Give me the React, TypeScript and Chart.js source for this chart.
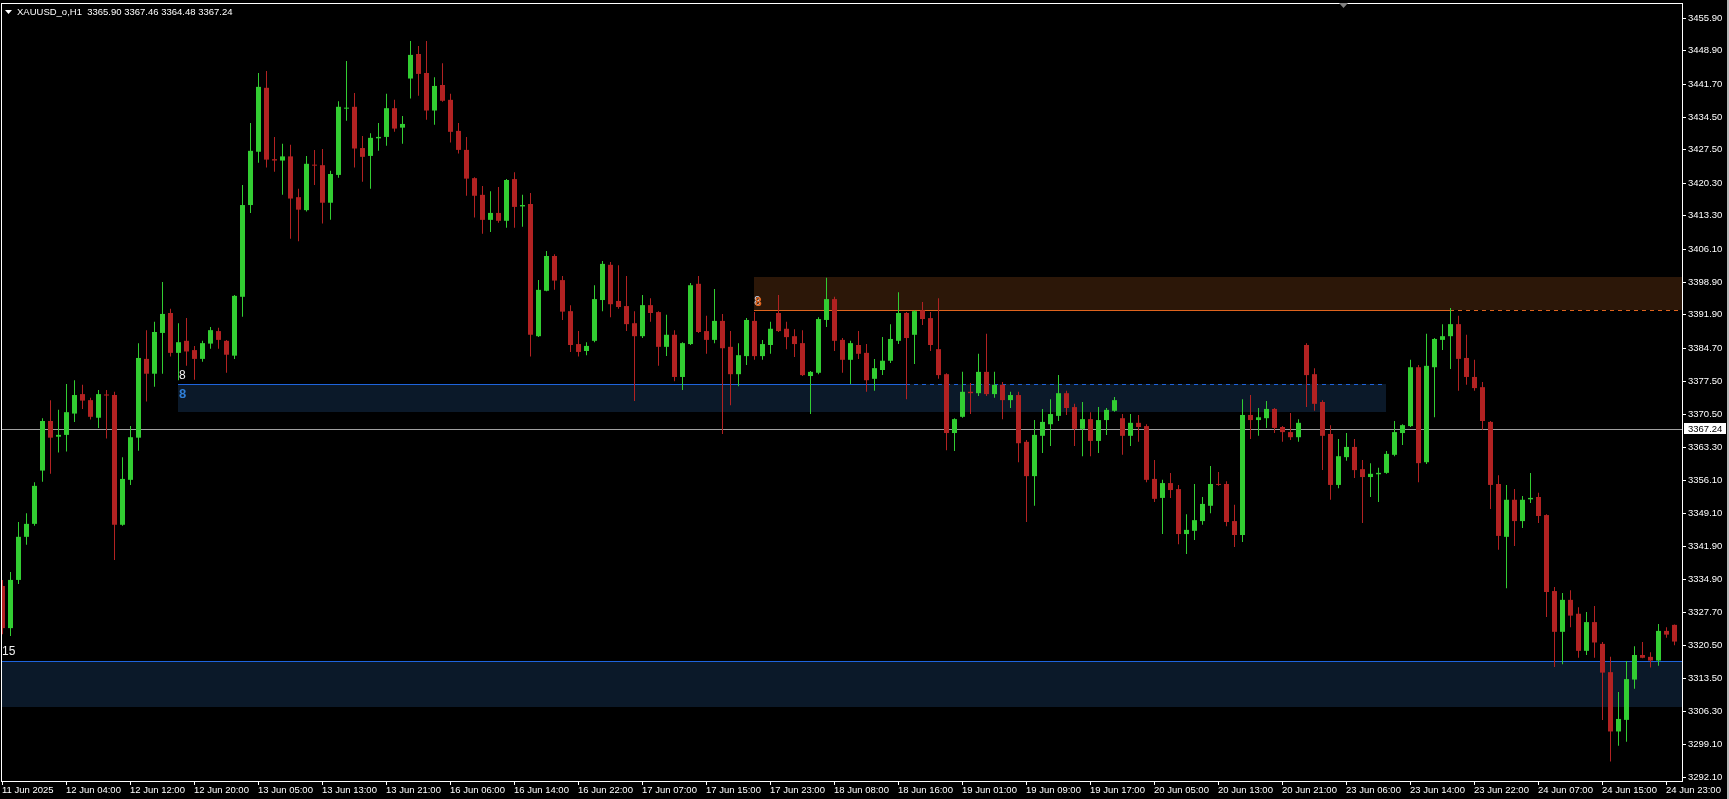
import React, { useEffect, useRef } from 'react';
import { Chart, registerables } from 'chart.js';

Chart.register(...registerables);

const symbolTitle = 'XAUUSD_o,H1';
const headerQuote = ['3365.90', '3367.46', '3364.48', '3367.24'];

const opens = [
  3333.4, 3324.3, 3334.7, 3344.0, 3346.8, 3358.3, 3369.0, 3365.6, 3366.0, 3370.6,
  3374.8, 3373.5, 3369.7, 3374.7, 3374.6, 3346.6, 3356.3, 3365.4, 3382.4, 3379.2,
  3388.0, 3392.3, 3383.7, 3386.3, 3384.3, 3382.4, 3385.7, 3388.4, 3386.3, 3383.1,
  3395.8, 3415.6, 3427.1, 3440.9, 3425.5, 3425.2, 3426.1, 3417.3, 3414.5, 3424.3,
  3424.2, 3416.1, 3422.1, 3436.4, 3436.8, 3427.9, 3426.2, 3430.0, 3430.3, 3436.5,
  3432.3, 3442.9, 3448.2, 3444.1, 3436.0, 3441.5, 3438.3, 3431.6, 3427.5, 3421.4,
  3417.8, 3412.4, 3413.9, 3412.2, 3421.2, 3415.3, 3415.8, 3387.3, 3397.1, 3404.6,
  3399.4, 3392.7, 3385.6, 3384.1, 3386.3, 3395.1, 3402.7, 3394.9, 3393.8, 3390.1,
  3387.3, 3394.0, 3392.5, 3385.0, 3387.6, 3378.5, 3385.6, 3398.6, 3388.4, 3386.5,
  3390.6, 3385.0, 3379.1, 3383.0, 3390.6, 3383.0, 3385.4, 3392.3, 3388.9, 3387.3,
  3385.8, 3378.7, 3379.4, 3390.8, 3395.3, 3386.5, 3382.2, 3385.4, 3383.7, 3378.1,
  3380.0, 3382.0, 3386.3, 3392.3, 3387.6, 3392.9, 3391.2, 3384.5, 3379.1, 3366.4,
  3369.9, 3375.3, 3375.0, 3379.6, 3374.8, 3376.8, 3373.5, 3374.6, 3364.5, 3357.1,
  3365.8, 3368.3, 3370.1, 3375.0, 3372.0, 3367.3, 3369.4, 3364.7, 3369.2, 3371.2,
  3369.6, 3365.8, 3368.6, 3367.9, 3356.5, 3352.4, 3355.6, 3354.3, 3344.6, 3345.3,
  3347.4, 3350.7, 3355.4, 3355.4, 3347.4, 3344.4, 3370.3, 3369.2, 3369.6, 3371.6,
  3367.7, 3366.6, 3365.5, 3385.4, 3379.1, 3373.1, 3366.2, 3355.2, 3361.2, 3363.4,
  3358.6, 3356.9, 3357.5, 3357.8, 3361.7, 3366.4, 3367.9, 3380.6, 3360.1, 3380.6,
  3386.5, 3387.3, 3389.9, 3382.6, 3378.5, 3376.3, 3368.8, 3355.4, 3344.0, 3352.0,
  3347.4, 3352.1, 3352.6, 3348.7, 3332.3, 3323.5, 3330.4, 3327.4, 3319.4, 3325.6,
  3320.9, 3314.8, 3302.0, 3304.5, 3313.2, 3318.5, 3318.1, 3317.3, 3323.7, 3325.0,
];

const highs = [
  3334.7, 3336.4, 3347.2, 3349.1, 3355.8, 3369.6, 3373.5, 3371.4, 3377.0, 3377.8,
  3376.8, 3374.0, 3375.7, 3375.7, 3375.3, 3361.2, 3367.9, 3385.8, 3388.6, 3390.4,
  3399.0, 3393.2, 3390.1, 3391.2, 3385.2, 3386.3, 3389.3, 3389.1, 3386.5, 3396.2,
  3419.9, 3433.3, 3444.1, 3444.5, 3430.3, 3428.8, 3428.6, 3419.1, 3426.2, 3427.5,
  3427.7, 3423.0, 3438.0, 3446.7, 3439.8, 3430.5, 3431.1, 3433.3, 3439.6, 3438.3,
  3434.8, 3451.0, 3449.9, 3451.0, 3443.2, 3446.2, 3439.6, 3433.3, 3430.3, 3421.6,
  3419.7, 3418.6, 3419.5, 3421.2, 3422.7, 3417.8, 3418.2, 3399.4, 3405.7, 3405.0,
  3400.3, 3394.0, 3388.4, 3386.0, 3398.3, 3403.5, 3403.3, 3402.6, 3400.3, 3392.7,
  3396.2, 3395.5, 3392.7, 3391.9, 3388.6, 3386.0, 3398.8, 3400.3, 3391.7, 3397.5,
  3392.1, 3388.4, 3385.8, 3391.2, 3392.5, 3386.5, 3390.4, 3396.2, 3390.4, 3388.8,
  3388.6, 3379.8, 3391.4, 3399.9, 3395.8, 3386.9, 3386.3, 3388.4, 3385.6, 3382.4,
  3387.1, 3389.9, 3396.8, 3392.5, 3392.9, 3394.7, 3392.5, 3395.5, 3379.3, 3369.6,
  3379.6, 3377.2, 3383.5, 3387.8, 3379.6, 3377.4, 3375.3, 3375.3, 3364.9, 3369.2,
  3371.6, 3373.7, 3378.9, 3375.5, 3372.7, 3373.1, 3370.9, 3372.0, 3371.8, 3374.2,
  3370.5, 3370.5, 3370.3, 3368.3, 3360.6, 3356.3, 3357.8, 3355.2, 3348.9, 3355.4,
  3352.6, 3359.3, 3358.0, 3356.0, 3350.9, 3373.7, 3374.6, 3371.8, 3373.3, 3371.8,
  3367.9, 3370.7, 3369.4, 3385.8, 3380.4, 3373.5, 3368.1, 3365.1, 3366.4, 3365.1,
  3360.6, 3359.9, 3358.9, 3362.5, 3369.0, 3368.3, 3382.2, 3381.1, 3387.8, 3386.9,
  3389.9, 3393.4, 3391.7, 3387.6, 3382.2, 3377.4, 3369.0, 3357.3, 3355.2, 3354.3,
  3352.8, 3357.8, 3353.5, 3348.9, 3333.2, 3331.9, 3332.5, 3328.8, 3327.8, 3329.1,
  3321.3, 3318.1, 3310.5, 3317.2, 3320.4, 3321.3, 3319.1, 3325.2, 3324.5, 3325.1,
];

const lows = [
  3323.0, 3322.6, 3333.8, 3342.3, 3346.4, 3355.9, 3357.6, 3362.2, 3362.4, 3368.8,
  3371.6, 3369.3, 3367.5, 3365.2, 3339.0, 3346.4, 3355.2, 3362.6, 3373.2, 3376.4,
  3379.2, 3382.9, 3377.8, 3380.9, 3377.9, 3381.8, 3384.6, 3384.6, 3379.4, 3382.4,
  3391.5, 3413.9, 3424.7, 3423.7, 3422.8, 3417.8, 3408.3, 3407.8, 3414.2, 3419.9,
  3411.6, 3412.4, 3421.5, 3433.8, 3423.7, 3420.6, 3419.1, 3427.3, 3428.4, 3431.4,
  3428.8, 3438.6, 3439.2, 3434.0, 3432.9, 3437.9, 3429.1, 3426.7, 3417.6, 3412.9,
  3409.4, 3409.8, 3411.8, 3410.7, 3410.7, 3410.9, 3382.9, 3387.1, 3397.0, 3397.3,
  3390.8, 3383.9, 3382.9, 3383.2, 3386.0, 3392.7, 3391.4, 3393.2, 3388.4, 3373.3,
  3386.9, 3390.4, 3380.9, 3383.0, 3377.6, 3375.7, 3385.4, 3388.0, 3383.5, 3385.8,
  3366.2, 3372.4, 3376.5, 3381.1, 3382.2, 3382.2, 3383.5, 3388.2, 3384.5, 3382.8,
  3378.7, 3370.5, 3379.1, 3389.3, 3384.1, 3379.4, 3377.0, 3382.4, 3375.3, 3375.5,
  3378.9, 3381.5, 3385.6, 3373.7, 3381.3, 3389.7, 3384.1, 3378.1, 3362.7, 3362.5,
  3369.7, 3370.5, 3374.4, 3374.4, 3374.0, 3369.4, 3371.8, 3360.1, 3347.2, 3350.7,
  3362.1, 3363.6, 3369.0, 3370.3, 3363.6, 3361.4, 3361.4, 3362.1, 3366.0, 3371.0,
  3361.7, 3363.6, 3364.5, 3355.8, 3351.5, 3344.6, 3352.4, 3342.4, 3340.3, 3343.3,
  3346.6, 3349.1, 3355.0, 3346.3, 3341.8, 3342.9, 3365.1, 3365.8, 3367.5, 3366.4,
  3364.5, 3364.9, 3364.5, 3372.0, 3371.2, 3358.4, 3352.0, 3354.5, 3360.4, 3356.7,
  3347.0, 3352.6, 3351.5, 3357.6, 3361.4, 3363.8, 3367.7, 3355.8, 3359.7, 3369.8,
  3384.3, 3380.2, 3375.5, 3376.8, 3375.5, 3367.1, 3350.0, 3341.2, 3332.9, 3342.0,
  3345.9, 3351.3, 3347.0, 3326.7, 3315.9, 3316.5, 3324.5, 3317.9, 3318.5, 3317.9,
  3304.5, 3295.5, 3298.9, 3299.8, 3311.2, 3317.8, 3315.8, 3316.2, 3322.2, 3320.6,
];

const closes = [
  3324.3, 3334.7, 3344.0, 3346.8, 3355.0, 3369.0, 3365.4, 3366.0, 3370.9, 3374.6,
  3373.4, 3369.9, 3374.8, 3374.5, 3346.6, 3356.5, 3365.5, 3382.6, 3379.2, 3388.2,
  3392.1, 3383.7, 3386.0, 3384.0, 3382.4, 3385.8, 3388.6, 3386.5, 3383.3, 3396.0,
  3415.6, 3427.3, 3441.1, 3425.4, 3425.2, 3426.1, 3417.0, 3414.6, 3424.5, 3424.1,
  3416.1, 3422.3, 3436.8, 3436.6, 3427.8, 3426.0, 3430.1, 3430.3, 3436.5, 3432.1,
  3433.1, 3448.0, 3443.9, 3436.0, 3441.3, 3438.1, 3431.4, 3427.5, 3421.3, 3417.6,
  3412.4, 3413.9, 3412.2, 3421.0, 3415.2, 3415.6, 3387.6, 3397.3, 3404.6, 3399.3,
  3392.6, 3385.4, 3383.9, 3385.2, 3395.3, 3402.9, 3394.2, 3393.6, 3389.9, 3387.3,
  3394.0, 3392.3, 3385.0, 3387.6, 3378.5, 3385.8, 3398.3, 3388.2, 3386.5, 3390.6,
  3384.7, 3379.1, 3383.2, 3390.8, 3383.0, 3385.6, 3388.9, 3388.4, 3387.1, 3385.6,
  3378.9, 3379.6, 3391.0, 3395.3, 3386.3, 3382.2, 3385.8, 3383.5, 3377.8, 3380.4,
  3382.0, 3386.7, 3392.3, 3386.9, 3392.7, 3391.0, 3385.4, 3378.9, 3366.4, 3369.4,
  3375.3, 3375.0, 3379.6, 3374.8, 3376.8, 3373.5, 3374.6, 3364.2, 3357.1, 3366.0,
  3368.8, 3370.5, 3375.0, 3371.8, 3367.3, 3369.4, 3364.7, 3369.2, 3371.4, 3373.5,
  3365.8, 3368.6, 3367.7, 3356.3, 3352.2, 3355.6, 3354.1, 3344.6, 3345.5, 3347.6,
  3351.1, 3355.4, 3355.2, 3347.2, 3344.4, 3370.3, 3369.2, 3369.8, 3371.6, 3367.5,
  3366.6, 3365.5, 3368.6, 3378.9, 3372.7, 3365.8, 3355.2, 3361.4, 3363.4, 3358.4,
  3356.9, 3357.6, 3357.8, 3361.9, 3366.6, 3368.1, 3380.6, 3359.9, 3380.9, 3386.7,
  3387.3, 3389.9, 3382.4, 3378.5, 3376.1, 3369.0, 3355.2, 3344.2, 3352.0, 3347.4,
  3352.0, 3352.4, 3348.5, 3332.1, 3323.5, 3330.4, 3327.0, 3319.4, 3325.6, 3321.2,
  3314.7, 3302.0, 3304.7, 3313.3, 3318.5, 3317.9, 3317.3, 3323.7, 3322.9, 3321.4,
];

const timeTickLabels = [
  '11 Jun 2025', '12 Jun 04:00', '12 Jun 12:00', '12 Jun 20:00', '13 Jun 05:00',
  '13 Jun 13:00', '13 Jun 21:00', '16 Jun 06:00', '16 Jun 14:00', '16 Jun 22:00',
  '17 Jun 07:00', '17 Jun 15:00', '17 Jun 23:00', '18 Jun 08:00', '18 Jun 16:00',
  '19 Jun 01:00', '19 Jun 09:00', '19 Jun 17:00', '20 Jun 05:00', '20 Jun 13:00',
  '20 Jun 21:00', '23 Jun 06:00', '23 Jun 14:00', '23 Jun 22:00', '24 Jun 07:00',
  '24 Jun 15:00', '24 Jun 23:00',
];
const barsPerTimeTick = 8;

const priceTickLabels = [
  '3455.90', '3448.90', '3441.70', '3434.50', '3427.50', '3420.30', '3413.30', '3406.10',
  '3398.90', '3391.90', '3384.70', '3377.50', '3370.50', '3363.30', '3356.10', '3349.10',
  '3341.90', '3334.90', '3327.70', '3320.50', '3313.50', '3306.30', '3299.10', '3292.10',
];

const currentPrice = 3367.24;
const currentPriceText = '3367.24';

// zones: [top price, bottom price]
const resistanceZone = [3399.9, 3392.9];
const resistanceStartBar = 94;
const resistanceSolidEndBar = 181;
const middleZone = [3376.9, 3370.8];
const middleStartBar = 22;
const middleSolidEndBar = 113;
const middleEndBar = 173;
const lowerZone = [3317.1, 3307.2];
const lowerZoneLabel = '15';
const middleZoneLabels = ['8', '8'];
const resistanceZoneLabel = '8';

const priceMin = 3291.31;
const priceMax = 3459.2;
const barMin = -0.0625;
const barMax = 209.9375;

const BULL = '#32CD32';
const BEAR = '#B22222';
const FONT = '"Liberation Sans", Arial, sans-serif';

const overlayPlugin = {
  id: 'mtOverlay',
  beforeDraw(chart: any) {
    const { ctx } = chart;
    ctx.save();
    ctx.fillStyle = '#000000';
    ctx.fillRect(0, 0, chart.width, chart.height);
    ctx.restore();
  },
  beforeDatasetsDraw(chart: any) {
    const { ctx, chartArea: a } = chart;
    const xs = chart.scales.x;
    const ys = chart.scales.y;
    const px = (v: number) => xs.getPixelForValue(v);
    const py = (v: number) => Math.floor(ys.getPixelForValue(v));
    ctx.save();
    ctx.beginPath();
    ctx.rect(a.left, a.top, a.right - a.left, a.bottom - a.top);
    ctx.clip();

    // lower zone
    ctx.fillStyle = '#0B1929';
    ctx.fillRect(a.left, py(lowerZone[0]), a.right - a.left, py(lowerZone[1]) - py(lowerZone[0]));
    // middle zone
    const mx0 = Math.floor(px(middleStartBar));
    const mx1 = Math.floor(px(middleEndBar));
    ctx.fillRect(mx0, py(middleZone[0]), mx1 - mx0, py(middleZone[1]) - py(middleZone[0]));
    // resistance zone
    const rx0 = Math.floor(px(resistanceStartBar));
    ctx.fillStyle = '#2C1708';
    ctx.fillRect(rx0, py(resistanceZone[0]), a.right - rx0, py(resistanceZone[1]) - py(resistanceZone[0]));

    ctx.lineWidth = 1;
    // lower zone line
    ctx.strokeStyle = '#1E64DC';
    let y = py(lowerZone[0]) + 0.5;
    ctx.beginPath();
    ctx.moveTo(a.left, y);
    ctx.lineTo(a.right, y);
    ctx.stroke();
    // middle line solid then dashed
    y = py(middleZone[0]) + 0.5;
    const ms = Math.floor(px(middleSolidEndBar));
    ctx.beginPath();
    ctx.moveTo(mx0, y);
    ctx.lineTo(ms, y);
    ctx.stroke();
    ctx.setLineDash([4, 4]);
    ctx.beginPath();
    ctx.moveTo(ms, y);
    ctx.lineTo(mx1, y);
    ctx.stroke();
    ctx.setLineDash([]);
    // resistance line
    ctx.strokeStyle = '#E0641E';
    y = py(resistanceZone[1]) + 0.5;
    const rs = Math.floor(px(resistanceSolidEndBar));
    ctx.beginPath();
    ctx.moveTo(rx0, y);
    ctx.lineTo(rs, y);
    ctx.stroke();
    ctx.setLineDash([4, 4]);
    ctx.beginPath();
    ctx.moveTo(rs, y);
    ctx.lineTo(a.right, y);
    ctx.stroke();
    ctx.setLineDash([]);

    // current price line
    ctx.strokeStyle = '#A0A0A0';
    y = py(currentPrice) + 0.5;
    ctx.beginPath();
    ctx.moveTo(a.left, y);
    ctx.lineTo(a.right, y);
    ctx.stroke();
    ctx.restore();
  },
  afterDraw(chart: any) {
    const { ctx, chartArea: a } = chart;
    const xs = chart.scales.x;
    const ys = chart.scales.y;
    const px = (v: number) => xs.getPixelForValue(v);
    const py = (v: number) => ys.getPixelForValue(v);
    ctx.save();

    // zone labels
    ctx.textAlign = 'left';
    ctx.textBaseline = 'alphabetic';
    const mx0 = Math.floor(px(middleStartBar)) + 1;
    ctx.font = `12px ${FONT}`;
    ctx.fillStyle = '#F0F0F0';
    ctx.fillText(middleZoneLabels[0], mx0, Math.floor(py(middleZone[0])) - 5);
    ctx.font = `bold 13px ${FONT}`;
    ctx.fillStyle = '#2F7FD8';
    ctx.fillText(middleZoneLabels[1], mx0, Math.floor(py(middleZone[0])) + 14);
    const rx0 = Math.floor(px(resistanceStartBar));
    ctx.font = `12px ${FONT}`;
    ctx.fillStyle = '#C8D8F0';
    ctx.fillText(resistanceZoneLabel, rx0, Math.floor(py(resistanceZone[1])) - 5);
    ctx.font = `bold 12px ${FONT}`;
    ctx.fillStyle = '#E0641E';
    ctx.fillText(resistanceZoneLabel, rx0 + 1, Math.floor(py(resistanceZone[1])) - 4);
    ctx.font = `12px ${FONT}`;
    ctx.fillStyle = '#F0F0F0';
    ctx.fillText(lowerZoneLabel, a.left, Math.floor(py(lowerZone[0])) - 6);

    // frame
    ctx.fillStyle = '#FFFFFF';
    ctx.fillRect(a.left - 1, a.top, a.right - a.left + 2, 1);
    ctx.fillRect(a.left - 1, a.top, 1, a.bottom - a.top + 1);
    ctx.fillRect(a.right, a.top, 1, a.bottom - a.top + 1);
    ctx.fillRect(a.left - 1, a.bottom, a.right - a.left + 2, 1);

    // right window strip
    ctx.fillStyle = '#B8B8B8';
    ctx.fillRect(chart.width - 2, 0, 2, chart.height);

    // chart shift marker
    ctx.fillStyle = '#808080';
    ctx.beginPath();
    ctx.moveTo(1339, a.top);
    ctx.lineTo(1348, a.top);
    ctx.lineTo(1343.5, a.top + 5);
    ctx.closePath();
    ctx.fill();

    // price axis
    ctx.font = `9.5px ${FONT}`;
    ctx.textBaseline = 'middle';
    ctx.fillStyle = '#FFFFFF';
    for (const lbl of priceTickLabels) {
      const y = Math.floor(py(parseFloat(lbl)));
      ctx.fillRect(a.right + 1, y, 3, 1);
      ctx.fillText(lbl, a.right + 6, y + 0.5);
    }
    // current price box
    const cy = Math.floor(py(currentPrice));
    ctx.fillStyle = '#FFFFFF';
    ctx.fillRect(a.right + 2, cy - 6, 42, 11);
    ctx.fillStyle = '#000000';
    ctx.fillText(currentPriceText, a.right + 6, cy);

    // time axis
    ctx.fillStyle = '#FFFFFF';
    timeTickLabels.forEach((lbl, k) => {
      const x = Math.floor(px(k * barsPerTimeTick));
      ctx.fillRect(x, a.bottom + 1, 1, 3);
      ctx.fillText(lbl, x, a.bottom + 9);
    });

    // header
    ctx.beginPath();
    ctx.moveTo(5, 10);
    ctx.lineTo(12, 10);
    ctx.lineTo(8.5, 14);
    ctx.closePath();
    ctx.fill();
    ctx.fillText(`${symbolTitle}  ${headerQuote.join(' ')}`, 17, 12);

    ctx.restore();
  },
};

export default function App() {
  const canvasRef = useRef<HTMLCanvasElement | null>(null);

  useEffect(() => {
    document.body.style.margin = '0';
    document.body.style.background = '#000';
    document.body.style.overflow = 'hidden';
    const canvas = canvasRef.current;
    if (!canvas) return;
    const bars = opens.map((_, i) => i);
    const colors = bars.map((i) => (closes[i] >= opens[i] ? BULL : BEAR));
    const chart = new Chart(canvas, {
      type: 'bar',
      data: {
        datasets: [
          {
            label: 'wick',
            data: bars.map((i) => ({ x: i, y: [lows[i], highs[i]] })) as any,
            backgroundColor: colors,
            barThickness: 1,
            grouped: false,
            order: 2,
            borderWidth: 0,
            inflateAmount: 0,
          } as any,
          {
            label: 'body',
            data: bars.map((i) => ({ x: i, y: [opens[i], closes[i]] })) as any,
            backgroundColor: colors,
            barThickness: 5,
            grouped: false,
            order: 1,
            borderWidth: 0,
            inflateAmount: 0,
            minBarLength: 1,
          } as any,
        ],
      },
      options: {
        responsive: false,
        maintainAspectRatio: false,
        animation: false,
        devicePixelRatio: 1,
        layout: { padding: { left: 2, top: 3, right: 47, bottom: 18 } },
        plugins: { legend: { display: false }, tooltip: { enabled: false } },
        scales: {
          x: { type: 'linear', display: false, min: barMin, max: barMax, offset: false },
          y: { type: 'linear', display: false, min: priceMin, max: priceMax },
        },
      } as any,
      plugins: [overlayPlugin],
    });
    return () => chart.destroy();
  }, []);

  return (
    <div style={{ width: 1729, height: 799, background: '#000' }}>
      <canvas ref={canvasRef} width={1729} height={799} style={{ display: 'block' }} />
    </div>
  );
}
